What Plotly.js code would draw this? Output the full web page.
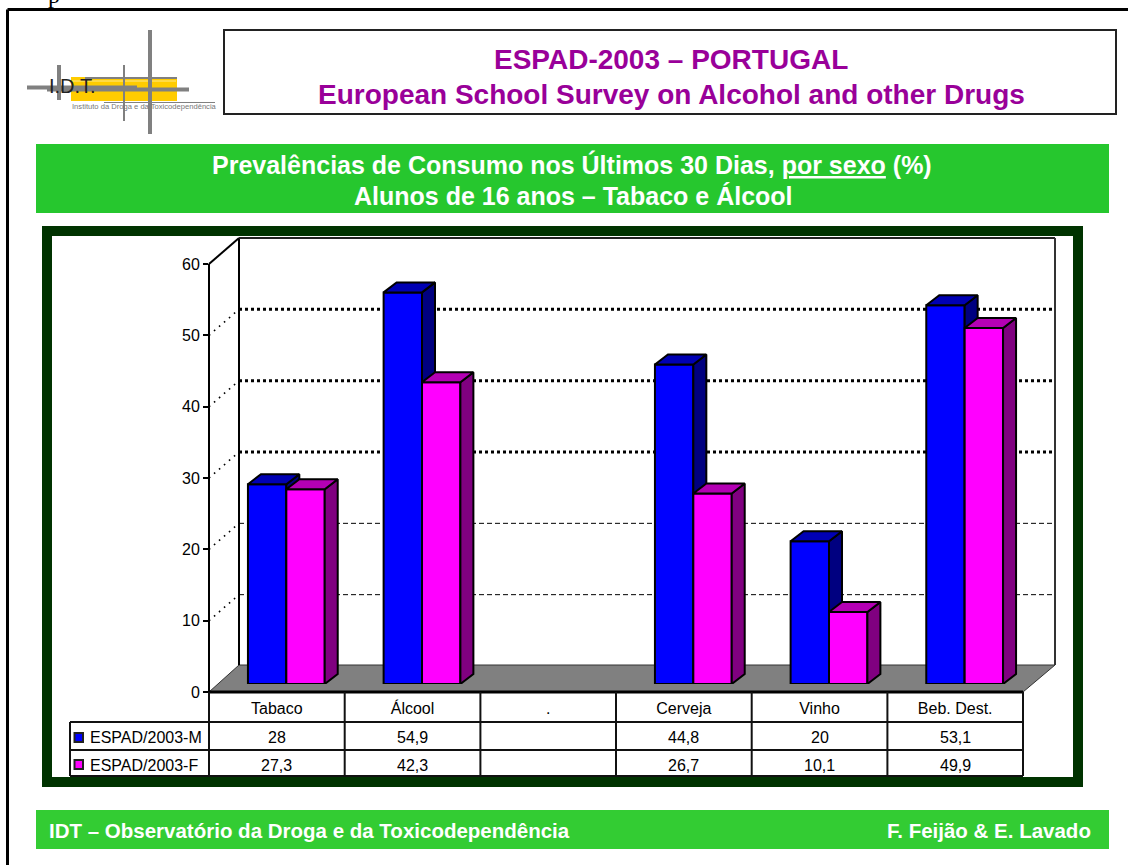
<!DOCTYPE html>
<html><head><meta charset="utf-8">
<script src="https://cdn.plot.ly/plotly-3.0.1.min.js"></script>
<style>html,body{margin:0;padding:0;background:#fff;overflow:hidden}</style>
</head><body><div id="chart" style="width:1128px;height:865px"></div>
<script>
const categories = ['Tabaco','Álcool','.','Cerveja','Vinho','Beb. Dest.'];
const seriesM = [28,54.9,null,44.8,20,53.1];
const seriesF = [27.3,42.3,null,26.7,10.1,49.9];
const labelsM = ['28','54,9','','44,8','20','53,1'];
const labelsF = ['27,3','42,3','','26,7','10,1','49,9'];
const nameM = 'ESPAD/2003-M';
const nameF = 'ESPAD/2003-F';
const yTicks = [0,10,20,30,40,50,60];
const gridBold = [30,40,50];
const gridThin = [10,20];

const W=1128,H=865;
const px=x=>x/W, py=y=>1-y/H;
const FONT='"Liberation Sans", Arial, sans-serif';
const xs=categories.map((_,i)=>i);
const barW=0.283, dX=13/135.7, dY=10/7.13;

function topFace(vals,x0f){const X=[],Y=[];vals.forEach((v,i)=>{if(v==null)return;
  const a=i+x0f,b=a+barW;X.push(a,a+dX,b+dX,b,a,null);Y.push(v,v+dY,v+dY,v,v,null);});return{x:X,y:Y};}
function sideFace(vals,x0f){const X=[],Y=[];vals.forEach((v,i)=>{if(v==null)return;
  const b=i+x0f+barW;X.push(b,b+dX,b+dX,b,b,null);Y.push(0,dY,v+dY,v,0,null);});return{x:X,y:Y};}
function poly(o,color,xa,ya){return{type:'scatter',mode:'lines',x:o.x,y:o.y,xaxis:xa,yaxis:ya,fill:'toself',fillcolor:color,
  line:{color:'#000',width:2},hoverinfo:'skip',showlegend:false,cliponaxis:false};}

const traces=[];
gridThin.forEach(v=>traces.push({type:'scatter',mode:'lines',x:[0,1],y:[v,v],line:{color:'#000',width:1,dash:'5px,3px'},hoverinfo:'skip',showlegend:false}));
gridBold.forEach(v=>traces.push({type:'scatter',mode:'lines',x:[0,1],y:[v,v],line:{color:'#000',width:3,dash:'3px,3px'},hoverinfo:'skip',showlegend:false}));
traces.push({type:'bar',name:nameM,x:xs,y:seriesM,xaxis:'x2',yaxis:'y2',offset:-barW,width:barW,marker:{color:'#0000FF',line:{color:'#000',width:2}},showlegend:false});
traces.push(poly(sideFace(seriesM,-barW),'#000080','x2','y2'));
traces.push(poly(topFace(seriesM,-barW),'#0000B4','x2','y2'));
traces.push({type:'bar',name:nameF,x:xs,y:seriesF,xaxis:'x3',yaxis:'y3',offset:0,width:barW,marker:{color:'#FF00FF',line:{color:'#000',width:2}},showlegend:false});
traces.push(poly(sideFace(seriesF,0),'#800080','x3','y3'));
traces.push(poly(topFace(seriesF,0),'#B400B4','x3','y3'));
// carrier for the front axes
traces.push({type:'scatter',mode:'markers',x:[0],y:[0],xaxis:'x4',yaxis:'y4',marker:{opacity:0},hoverinfo:'skip',showlegend:false});

const hid={visible:false,fixedrange:true};
const catRange=[-0.5,5.5];
const layout={
  width:W,height:H,margin:{l:0,r:0,t:0,b:0},paper_bgcolor:'#fff',plot_bgcolor:'rgba(0,0,0,0)',showlegend:false,hovermode:false,
  font:{family:FONT,color:'#000',size:16},
  // back wall
  xaxis:{...hid,domain:[px(239),px(1055)],range:[0,1]},
  yaxis:{...hid,domain:[py(666),py(238)],range:[0,60]},
  // male bars plane
  xaxis2:{...hid,domain:[px(218.5),px(1032.5)],range:catRange,anchor:'y2'},
  yaxis2:{...hid,domain:[py(684),py(256)],range:[0,60],anchor:'x2'},
  // female bars plane
  xaxis3:{...hid,domain:[px(218.5),px(1032.5)],range:catRange,anchor:'y3'},
  yaxis3:{...hid,domain:[py(684),py(256)],range:[0,60],anchor:'x3'},
  // front axes
  xaxis4:{domain:[px(209),px(1023)],range:catRange,anchor:'y4',tickmode:'array',tickvals:xs,ticktext:categories,
          ticks:'',ticklabelstandoff:5,showgrid:false,zeroline:false,showline:false,tickfont:{family:FONT,size:16,color:'#000'},fixedrange:true},
  yaxis4:{domain:[py(692),py(264)],range:[0,60],anchor:'x4',tickmode:'array',tickvals:yTicks,ticks:'outside',ticklen:5,tickwidth:2,tickcolor:'#000',
          showline:false,showgrid:false,zeroline:false,tickfont:{family:FONT,size:16,color:'#000'},fixedrange:true},
  shapes:[],annotations:[]
};
const S=layout.shapes,A=layout.annotations;
const line=(x0,y0,x1,y1,c='#000',w=2,dash='solid',lay='below')=>S.push({type:'line',xref:'paper',yref:'paper',x0:px(x0),y0:py(y0),x1:px(x1),y1:py(y1),line:{color:c,width:w,dash},layer:lay});
const rect=(x0,y0,x1,y1,fill,lc,lw,lay='below')=>S.push({type:'rect',xref:'paper',yref:'paper',x0:px(x0),y0:py(y0),x1:px(x1),y1:py(y1),fillcolor:fill,line:{color:lc||'rgba(0,0,0,0)',width:lw||0},layer:lay});
const txt=(x,y,t,size,color,opt={})=>A.push({xref:'paper',yref:'paper',x:px(x),y:py(y),text:t,showarrow:false,xanchor:opt.xa||'center',yanchor:'middle',align:opt.xa||'center',
  font:{family:opt.fam||FONT,size,color},borderpad:0,borderwidth:0});

// page frame
line(7.5,9.5,1128,9.5,'#000',3);
line(7.5,9.5,7.5,865,'#000',3);
txt(54,-5,'p',24,'#000',{fam:'"Liberation Serif",serif'});

// logo
rect(71,77,177,101,'#FFCC00');
line(72,81,176,81,'#FFE98A',1);
line(27,87.5,137,87.5,'#808080',4);
line(47,89.5,189,89.5,'#808080',4);
line(85,78,177,78,'#808080',2);
line(104,102.5,215,102.5,'#808080',1);
line(150,30,150,134,'#808080',4);
line(124,65,124,121,'#808080',2);
line(59,65,59,100,'#808080',4);
txt(72.5,86,'I.D.T.',20,'#222');
txt(144,106,'Instituto da Droga e da Toxicodependência',7.6,'#777');

// header box
rect(224,30,1116,114,'#fff','#222',2);
txt(671,59,'<b>ESPAD-2003 – PORTUGAL</b>',28,'#990099');
txt(671,94,'<b>European School Survey on Alcohol and other Drugs</b>',28,'#990099');

// green band
rect(36,144,1109,213,'#26C72E');
txt(572,165,'<b>Prevalências de Consumo nos Últimos 30 Dias, <span style="text-decoration:underline">por sexo</span> (%)</b>',25,'#fff');
txt(573,196,'<b>Alunos de 16 anos – Tabaco e Álcool</b>',25,'#fff');

// footer
rect(36,810,1109,849,'#33CC33');
txt(49,830,'<b>IDT – Observatório da Droga e da Toxicodependência</b>',20.5,'#fff',{xa:'left'});
txt(1091,830,'<b>F. Feijão & E. Lavado</b>',20.5,'#fff',{xa:'right'});

// chart frame
rect(47,231,1078,782,'#fff','#003300',10);

// walls and floor
S.push({type:'path',xref:'paper',yref:'paper',path:`M${px(209)},${py(692)} L${px(239)},${py(665)} L${px(1055)},${py(665)} L${px(1023)},${py(692)} Z`,fillcolor:'#808080',line:{color:'#333',width:1},layer:'below'});
line(239,238,239,665,'#000',2);
line(239,238,1055,238,'#222',2);
line(1055,238,1055,665,'#333',2);
line(209,264,239,238,'#000',2);
line(209,264,209,692,'#000',2);
[10,20,30,40,50].forEach(v=>line(209,692-v*428/60,239,666-v*428/60,'#000',1.6,'1.6px,5px'));

// data table
const rows=[692,722,750,776], cols=[209,344.7,480.4,616,751.7,887.4,1023];
line(209,692,1023,692,'#000',3);
rows.slice(1).forEach(y=>line(70,y,1023,y,'#111',2));
line(70,722,70,776,'#111',2);
cols.forEach(x=>line(x,692,x,776,'#111',2));
rect(74.5,733,83,742,'#0000FF','#222',2);
rect(74.5,760,83,769,'#FF00FF','#222',2);
txt(90,737,nameM,16,'#000',{xa:'left'});
txt(90,765,nameF,16,'#000',{xa:'left'});
xs.forEach(i=>{
  [[labelsM,737],[labelsF,765]].forEach(([arr,y])=>{
    if(arr[i])A.push({xref:'x4',yref:'paper',x:i,y:py(y),text:arr[i],showarrow:false,xanchor:'center',yanchor:'middle',font:{family:FONT,size:16,color:'#000'}});
  });
});
Plotly.newPlot('chart',traces,layout,{staticPlot:true,displayModeBar:false});
</script></body></html>
